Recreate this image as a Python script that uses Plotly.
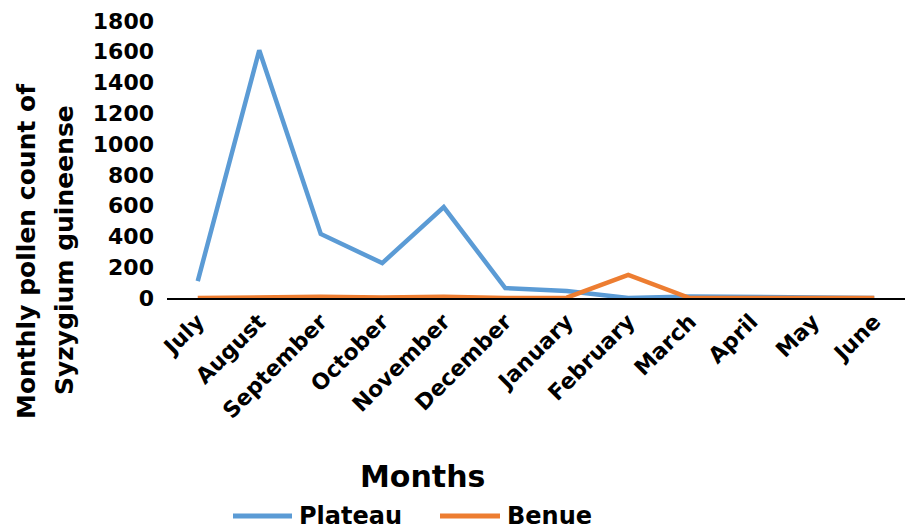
import plotly.graph_objects as go

months = ["July", "August", "September", "October", "November", "December",
          "January", "February", "March", "April", "May", "June"]
plateau = [110, 1610, 416, 227, 591, 65, 45, 0, 10, 5, 5, 0]
benue = [0, 5, 8, 3, 8, 0, 2, 150, 0, 0, 0, 0]
series_names = ["Plateau", "Benue"]
series_colors = ["#5B9BD5", "#ED7D31"]

FONT = "DejaVu Sans, Liberation Sans, sans-serif"

# plot area in pixels
L, R, T, B = 167, 905, 21, 298
W, H = R - L, B - T


def px(x):
    return (x - L) / W


def py(y):
    return (B - y) / H


fig = go.Figure()
for name, vals, col in zip(series_names, [plateau, benue], series_colors):
    fig.add_trace(go.Scatter(x=months, y=vals, mode="lines", name=name,
                             line=dict(color=col, width=4.5)))

annotations = [
    dict(text="Monthly pollen count of", textangle=-90,
         xref="paper", yref="paper", x=px(26), y=py(251),
         xanchor="center", yanchor="middle", showarrow=False,
         font=dict(size=25, family=FONT, weight="bold")),
    dict(text="Syzygium guineense", textangle=-90,
         xref="paper", yref="paper", x=px(64), y=py(250),
         xanchor="center", yanchor="middle", showarrow=False,
         font=dict(size=25, family=FONT, weight="bold")),
    dict(text="Months", xref="paper", yref="paper",
         x=px(422), y=py(476),
         xanchor="center", yanchor="middle", showarrow=False,
         font=dict(size=30, family=FONT, weight="bold")),
]
shapes = []
legend_pos = [(233, 292, 297), (440, 500, 505)]
for name, col, (x0, x1, xt) in zip(series_names, series_colors, legend_pos):
    shapes.append(dict(type="line", xref="paper", yref="paper",
                       x0=px(x0), x1=px(x1), y0=py(516), y1=py(516),
                       line=dict(color=col, width=5)))
    annotations.append(dict(text=name, xref="paper", yref="paper",
                            x=px(xt), y=py(516), xanchor="left", yanchor="middle",
                            showarrow=False,
                            font=dict(size=24, family=FONT, weight="bold")))

fig.update_layout(
    width=905, height=529,
    margin=dict(l=L, r=905 - R, t=T, b=529 - B),
    paper_bgcolor="white", plot_bgcolor="white",
    font=dict(family=FONT, color="black"),
    showlegend=False,
    xaxis=dict(
        tickangle=-45, tickfont=dict(size=22, family=FONT, weight="bold"),
        showline=True, linecolor="black", linewidth=2,
        showgrid=False, ticks="", layer="below traces",
        range=[-0.5, 11.5], automargin=False,
    ),
    yaxis=dict(
        range=[0, 1800], dtick=200, showgrid=False, showline=False,
        zeroline=False, ticks="", ticklabelstandoff=12, automargin=False,
        tickfont=dict(size=22, family=FONT, weight="bold"),
    ),
    annotations=annotations,
    shapes=shapes,
)

fig.write_html("out.html")
